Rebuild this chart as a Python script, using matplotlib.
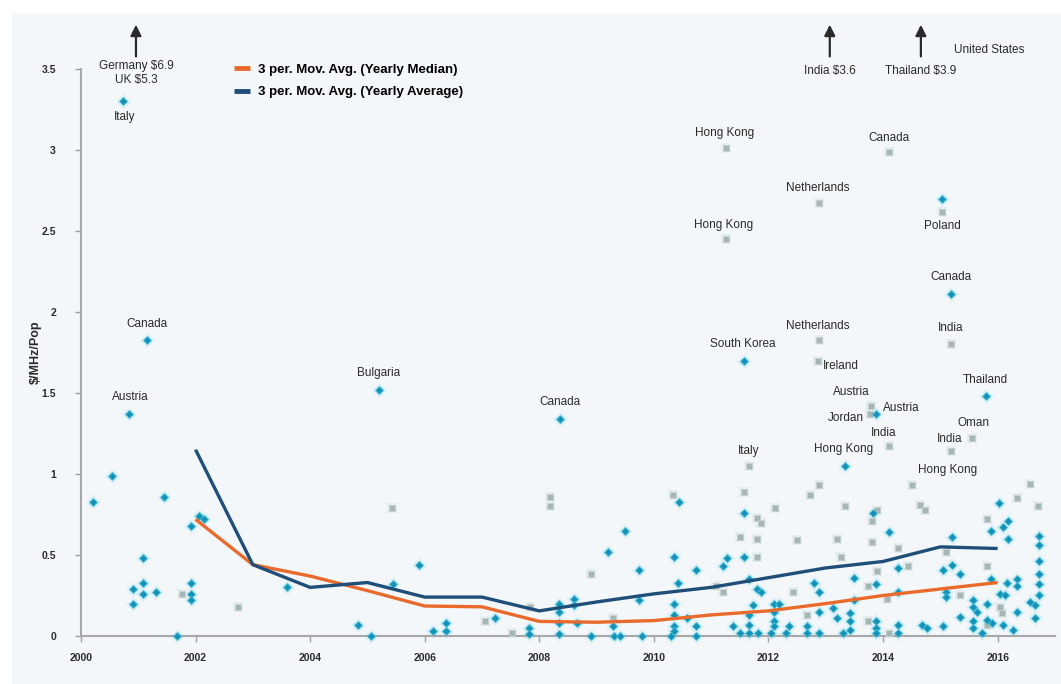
import numpy as np
import matplotlib
matplotlib.use("Agg")
import matplotlib.pyplot as plt
from matplotlib.patches import Rectangle

plt.rcParams['font.family'] = ['Liberation Sans', 'DejaVu Sans']

# 3 period moving averages, $/MHz/Pop
ma_years = [2002, 2003, 2004, 2005, 2006, 2007, 2008, 2009, 2010, 2011, 2012, 2013, 2014, 2015, 2016]
ma_median = [0.72, 0.44, 0.37, 0.28, 0.185, 0.18, 0.09, 0.085, 0.095, 0.13, 0.155, 0.20, 0.25, 0.29, 0.33]
ma_average = [1.15, 0.44, 0.30, 0.33, 0.24, 0.24, 0.155, 0.21, 0.26, 0.30, 0.36, 0.42, 0.46, 0.55, 0.54]

# individual auctions (unlabelled)
dia_years = [2000.21, 2000.54, 2001.45, 2001.08, 2001.08, 2000.91, 2001.08, 2001.31, 2000.91, 2001.68,
             2001.92, 2002.06, 2002.15, 2001.92, 2001.92, 2001.92,
             2003.6, 2004.84, 2005.06, 2005.44, 2005.9, 2006.14, 2006.37, 2006.37, 2007.23, 2007.82,
             2007.82, 2008.35, 2008.35, 2008.35, 2008.35, 2008.6, 2008.6, 2008.65, 2008.9, 2009.2,
             2009.5, 2009.28, 2009.3, 2009.4, 2009.74, 2009.74, 2009.8, 2010.43, 2010.35, 2010.42,
             2010.35, 2010.35, 2010.35, 2010.35, 2010.3, 2010.58, 2010.73, 2010.73, 2010.73,
             2011.2, 2011.27, 2011.38, 2011.5, 2011.57, 2011.57, 2011.66, 2011.8, 2011.87, 2011.73,
             2011.66, 2011.66, 2011.66, 2011.82, 2012.1, 2012.18, 2012.1, 2012.1, 2012.1, 2012.05,
             2012.35, 2012.3, 2012.8, 2012.88, 2012.88, 2012.67, 2012.67, 2012.88, 2013.12, 2013.19,
             2013.3, 2013.82, 2014.1, 2014.26, 2013.49, 2013.87, 2014.26, 2013.49, 2013.42, 2013.42,
             2013.42, 2013.87, 2013.87, 2013.87, 2014.26, 2014.26, 2014.68, 2014.76, 2015.04, 2015.2,
             2015.04, 2015.2, 2015.34, 2015.1, 2015.1, 2015.34, 2015.57, 2015.57, 2015.64, 2015.57,
             2015.57, 2015.72, 2015.88, 2016.02, 2016.18, 2016.09, 2016.18, 2015.88, 2015.81, 2015.81,
             2015.9, 2016.04, 2016.12, 2016.1, 2016.27, 2016.16, 2016.33, 2016.33, 2016.33, 2016.56,
             2016.65, 2016.65, 2016.72, 2016.72, 2016.72, 2016.72, 2016.72, 2016.72]
dia_values = [0.83, 0.99, 0.86, 0.48, 0.33, 0.29, 0.26, 0.27, 0.20, 0.0,
              0.68, 0.74, 0.72, 0.33, 0.26, 0.22,
              0.30, 0.07, 0.0, 0.32, 0.44, 0.03, 0.08, 0.03, 0.11, 0.05,
              0.01, 0.20, 0.15, 0.08, 0.01, 0.23, 0.19, 0.08, 0.0, 0.52,
              0.65, 0.06, 0.0, 0.0, 0.41, 0.22, 0.0, 0.83, 0.49, 0.33,
              0.20, 0.13, 0.06, 0.03, 0.0, 0.11, 0.41, 0.06, 0.0,
              0.43, 0.48, 0.06, 0.02, 0.76, 0.49, 0.35, 0.29, 0.27, 0.19,
              0.13, 0.07, 0.02, 0.02, 0.20, 0.20, 0.15, 0.09, 0.06, 0.02,
              0.06, 0.02, 0.33, 0.27, 0.15, 0.06, 0.02, 0.02, 0.17, 0.11,
              0.02, 0.76, 0.64, 0.42, 0.36, 0.32, 0.27, 0.22, 0.14, 0.09,
              0.04, 0.09, 0.05, 0.02, 0.07, 0.02, 0.07, 0.05, 0.06, 0.61,
              0.41, 0.44, 0.38, 0.27, 0.24, 0.12, 0.22, 0.18, 0.15, 0.09,
              0.05, 0.02, 0.65, 0.82, 0.71, 0.67, 0.60, 0.35, 0.20, 0.10,
              0.08, 0.26, 0.25, 0.07, 0.04, 0.33, 0.35, 0.31, 0.15, 0.21,
              0.19, 0.11, 0.62, 0.56, 0.46, 0.38, 0.32, 0.25]

sq_years = [2001.76, 2002.74, 2005.43, 2007.05, 2007.52, 2007.84, 2008.19, 2008.19, 2008.9, 2009.28,
            2010.33, 2011.2, 2011.08, 2011.57, 2011.5, 2011.8, 2011.87, 2011.8, 2011.8, 2012.11,
            2012.5, 2012.43, 2012.72, 2012.88, 2012.67, 2013.19, 2013.26, 2013.33, 2014.64, 2014.73,
            2016.56, 2016.33, 2016.7, 2015.81, 2013.9, 2013.8, 2013.8, 2014.26, 2014.43, 2013.9,
            2013.73, 2014.07, 2013.73, 2014.1, 2015.1, 2015.34, 2015.81, 2016.04, 2015.81, 2016.07]
sq_values = [0.26, 0.18, 0.79, 0.09, 0.02, 0.18, 0.86, 0.80, 0.38, 0.11,
             0.87, 0.27, 0.31, 0.89, 0.61, 0.73, 0.70, 0.60, 0.49, 0.79,
             0.59, 0.27, 0.87, 0.93, 0.13, 0.60, 0.49, 0.80, 0.81, 0.78,
             0.94, 0.85, 0.80, 0.72, 0.78, 0.71, 0.58, 0.54, 0.43, 0.40,
             0.31, 0.23, 0.09, 0.02, 0.52, 0.25, 0.43, 0.18, 0.07, 0.14]

# labelled auctions: name, year, value, marker kind, label offset (pt), alignment
lab_names = ['Italy', 'Canada', 'Austria', 'Bulgaria', 'Canada', 'South Korea', 'Hong Kong',
             'Austria', 'Poland', 'Canada', 'Thailand',
             'Hong Kong', 'Hong Kong', 'Italy', 'Netherlands', 'Netherlands', 'Ireland', 'Austria',
             'Jordan', 'India', 'Canada', '', 'India', 'Oman', 'India', 'Hong Kong']
lab_years = [2000.73, 2001.15, 2000.84, 2005.2, 2008.36, 2011.57, 2013.33,
             2013.87, 2015.03, 2015.18, 2015.79,
             2011.26, 2011.26, 2011.66, 2012.88, 2012.88, 2012.86, 2013.79,
             2013.78, 2014.1, 2014.1, 2015.03, 2015.18, 2015.55, 2015.18, 2014.5]
lab_values = [3.30, 1.83, 1.37, 1.52, 1.34, 1.70, 1.05,
              1.37, 2.70, 2.11, 1.48,
              3.01, 2.45, 1.05, 2.67, 1.83, 1.70, 1.42,
              1.37, 1.17, 2.99, 2.62, 1.80, 1.22, 1.14, 0.93]
lab_kind = ['D'] * 11 + ['s'] * 15
lab_offset = [(1, -11), (0, 11), (1, 12), (0, 12), (0, 12), (-1, 12), (-1, 12),
              (5, 4), (0, -20), (0, 12), (0, 12),
              (-1, 11), (-2, 10), (0, 11), (-1, 11), (-1, 10), (4, -4), (-14, 10),
              (-5, -3), (-4, 10), (0, 10), (0, 0), (0, 12), (1, 11), (-1, 9), (26, 11)]
lab_ha = ['center'] * 7 + ['left'] + ['center'] * 8 + ['left', 'center', 'right'] + ['center'] * 7

# auctions above the top of the scale
off_names = ['Germany', 'UK', 'India', 'Thailand']
off_years = [2000.96, 2000.96, 2013.07, 2014.66]
off_values = [6.9, 5.3, 3.6, 3.9]

blue_dot = '#1790b5'
grey_sq = '#a6b5b5'
orange = '#ea6a2c'
navy = '#1f4e79'
txt = '#2a2a2a'
fs = 8.5

fig = plt.figure(figsize=(10.61, 6.84), dpi=100, facecolor='white')
fig.patches.append(Rectangle((12 / 1061, 0), 1, 671 / 684, transform=fig.transFigure,
                             facecolor='#f3f7fa', edgecolor='none', zorder=-10))
ax = fig.add_axes([0.0763, 0.0702, 0.918, 0.829])
ax.set_facecolor('none')

all_years = dia_years + [y for y, k in zip(lab_years, lab_kind) if k == 'D']
all_vals = dia_values + [v for v, k in zip(lab_values, lab_kind) if k == 'D']
sq_all_y = sq_years + [y for y, k in zip(lab_years, lab_kind) if k == 's']
sq_all_v = sq_values + [v for v, k in zip(lab_values, lab_kind) if k == 's']

ax.scatter(sq_all_y, sq_all_v, marker='s', s=45, color='#e6edef', zorder=2, clip_on=False, linewidths=0)
ax.scatter(sq_all_y, sq_all_v, marker='s', s=15, color=grey_sq, edgecolors='#c6d1d1',
           linewidths=0.7, zorder=3, clip_on=False)
ax.scatter(all_years, all_vals, marker='D', s=55, color='#d8eff7', zorder=2, clip_on=False, linewidths=0)
ax.scatter(all_years, all_vals, marker='D', s=16, color=blue_dot, edgecolors='#42bcd8',
           linewidths=0.7, zorder=4, clip_on=False)

ax.plot(ma_years, ma_median, color=orange, lw=2.4, zorder=5, solid_capstyle='butt',
        label='3 per. Mov. Avg. (Yearly Median)')
ax.plot(ma_years, ma_average, color=navy, lw=2.4, zorder=6, solid_capstyle='butt',
        label='3 per. Mov. Avg. (Yearly Average)')

for name, x, y, off, ha in zip(lab_names, lab_years, lab_values, lab_offset, lab_ha):
    if name:
        ax.annotate(name, (x, y), xytext=off, textcoords='offset points', ha=ha, va='center',
                    fontsize=fs, color=txt, zorder=7, annotation_clip=False)

# arrows for values off the top of the scale
arrow_x = sorted(set(off_years))
for x in arrow_x:
    ax.annotate('', xy=(x, 3.79), xytext=(x, 3.56), annotation_clip=False,
                arrowprops=dict(arrowstyle='-|>', color='#2a2a2a', lw=1.6, mutation_scale=16))
ax.text(off_years[0], 3.52, f'{off_names[0]} \\${off_values[0]}', ha='center', va='center',
        fontsize=fs, color=txt, clip_on=False)
ax.text(off_years[1], 3.43, f'{off_names[1]} \\${off_values[1]}', ha='center', va='center',
        fontsize=fs, color=txt, clip_on=False)
ax.text(off_years[2], 3.49, f'{off_names[2]} \\${off_values[2]}', ha='center', va='center',
        fontsize=fs, color=txt, clip_on=False)
ax.text(off_years[3], 3.49, f'{off_names[3]} \\${off_values[3]}', ha='center', va='center',
        fontsize=fs, color=txt, clip_on=False)
ax.text(2015.86, 3.62, 'United States', ha='center', va='center', fontsize=fs, color=txt, clip_on=False)

ax.set_xlim(2000, 2017)
ax.set_ylim(0, 3.5)
ax.set_xticks(range(2000, 2017, 2))
ax.set_yticks([0, 0.5, 1, 1.5, 2, 2.5, 3, 3.5])
ax.set_yticklabels(['0', '0.5', '1', '1.5', '2', '2.5', '3', '3.5'])
ax.tick_params(axis='both', colors='#a0a0a0', labelcolor=txt, labelsize=7.5, length=4, width=1)
for lbl in ax.get_xticklabels() + ax.get_yticklabels():
    lbl.set_fontweight('bold')
ax.tick_params(axis='x', pad=8)
ax.tick_params(axis='y', pad=14)
for side in ['top', 'right']:
    ax.spines[side].set_visible(False)
for side in ['left', 'bottom']:
    ax.spines[side].set_color('#a8a8a8')
    ax.spines[side].set_linewidth(1.5)

ax.set_ylabel('$/MHz/Pop', fontsize=9, fontweight='bold', color=txt, labelpad=0)

leg = ax.legend(loc='upper left', bbox_to_anchor=(0.145, 1.03), frameon=False, handlelength=1.2,
                handletextpad=0.6, labelspacing=0.75, prop={'weight': 'bold', 'size': 9.5})
for line in leg.get_lines():
    line.set_linewidth(3.5)

plt.savefig('out.png', dpi=100, facecolor=fig.get_facecolor())
